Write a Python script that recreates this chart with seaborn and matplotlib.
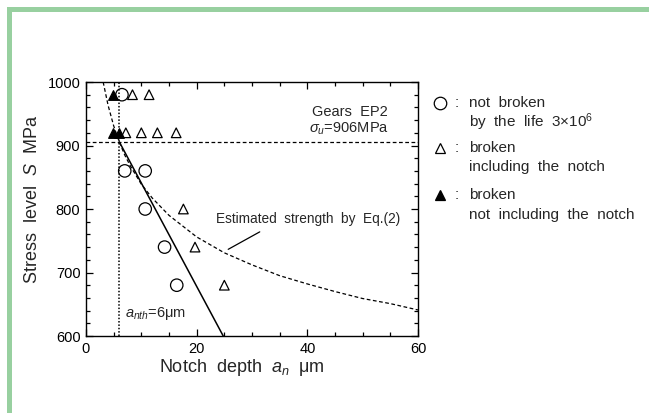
import numpy as np
import pandas as pd
import matplotlib
matplotlib.use("Agg")
import matplotlib.pyplot as plt
import seaborn as sns
from matplotlib.lines import Line2D
from matplotlib.patches import Rectangle

# ---------------- data ----------------
circle_x = [6.5, 7.0, 10.7, 10.7, 14.2, 16.4]
circle_y = [980, 860, 860, 800, 740, 680]

open_tri_x = [8.4, 11.4, 7.2, 10.0, 12.9, 16.3, 17.6, 19.7, 25.0]
open_tri_y = [980, 980, 920, 920, 920, 920, 800, 740, 680]

filled_tri_x = [4.9, 4.9, 6.0]
filled_tri_y = [980, 920, 920]

# estimated strength by Eq.(2) (dashed curve)
est_x = [3.1, 4, 5, 6, 7, 8, 10, 12, 15, 20, 25, 30, 35, 40, 45, 50, 55, 60]
est_y = [1000, 963, 931, 906, 885, 868, 839, 817, 790, 756, 731, 712, 695, 682, 670, 659, 651, 641]

# solid line
fit_x = [6.0, 24.8]
fit_y = [906, 600]

sigma_u = 906
a_nth = 6

x_limits = [0, 60]
y_limits = [600, 1000]
x_major = [0, 20, 40, 60]
y_major = [600, 700, 800, 900, 1000]

# ---------------- style ----------------
sns.set_theme(style="ticks")
plt.rcParams["font.family"] = ["Liberation Sans", "DejaVu Sans"]
plt.rcParams["mathtext.fontset"] = "custom"
plt.rcParams["mathtext.rm"] = "Liberation Sans"
plt.rcParams["mathtext.it"] = "Liberation Sans:italic"
plt.rcParams["mathtext.default"] = "it"

W, H = 649, 413
fig = plt.figure(figsize=(W / 100, H / 100), dpi=100)
fig.patch.set_facecolor("white")

green = "#98d0a0"
fig.add_artist(Rectangle((7 / W, 0), 5 / W, 1 - 7 / H, transform=fig.transFigure,
                         facecolor=green, edgecolor="none"))
fig.add_artist(Rectangle((7 / W, 1 - 12 / H), 1 - 7 / W, 5 / H, transform=fig.transFigure,
                         facecolor=green, edgecolor="none"))

ax = fig.add_axes([86 / W, 1 - 336 / H, (418 - 86) / W, (336 - 82) / H])

# reference lines
sns.lineplot(x=x_limits, y=[sigma_u, sigma_u], ax=ax, color="black", lw=0.9,
             linestyle=(0, (3, 2)), estimator=None)
sns.lineplot(x=[a_nth, a_nth], y=y_limits, ax=ax, color="black", lw=1.1,
             linestyle=(0, (1, 1.2)), estimator=None, sort=False)
sns.lineplot(x=est_x, y=est_y, ax=ax, color="black", lw=0.9,
             linestyle=(0, (3, 2)), sort=False, estimator=None)
sns.lineplot(x=fit_x, y=fit_y, ax=ax, color="black", lw=1.1, estimator=None)

# markers
sns.scatterplot(x=circle_x, y=circle_y, ax=ax, marker="o", s=80,
                facecolor="none", edgecolor="black", linewidth=0.9, zorder=5)
sns.scatterplot(x=open_tri_x, y=open_tri_y, ax=ax, marker="^", s=48,
                facecolor="none", edgecolor="black", linewidth=0.9, zorder=5)
sns.scatterplot(x=filled_tri_x, y=filled_tri_y, ax=ax, marker="^", s=48,
                facecolor="black", edgecolor="black", linewidth=0.9, zorder=6)

ax.set_xlim(*x_limits)
ax.set_ylim(*y_limits)
ax.set_xticks(x_major)
ax.set_yticks(y_major)
ax.set_xticks(np.arange(0, 61, 5), minor=True)
ax.set_yticks(np.arange(600, 1001, 20), minor=True)
ax.tick_params(which="both", direction="in", top=True, right=True, colors="black",
               labelsize=10.5)
ax.tick_params(which="major", length=5, width=0.9)
ax.tick_params(which="minor", length=3, width=0.9)
ax.tick_params(axis="x", pad=4)
ax.tick_params(axis="y", pad=4)
for sp in ax.spines.values():
    sp.set_visible(True)
    sp.set_color("black")
    sp.set_linewidth(1.0)
ax.set_facecolor("white")
ax.grid(False)

ax.set_xlabel(r"Notch  depth  $a_n$  $\mathrm{\mu}$m", fontsize=13)
ax.set_ylabel(r"Stress  level  $S$  MPa", fontsize=13)
ax.xaxis.set_label_coords(0.47, -0.082)
ax.yaxis.set_label_coords(-0.135, 0.539)


def px(xp, yp):
    return (xp / W, 1 - yp / H)


fig.text(*px(388, 112), "Gears  EP2", ha="right", va="center", fontsize=10.5)
fig.text(*px(389, 128.5), r"$\sigma_u$=906MPa", ha="right", va="center", fontsize=10.5)
fig.text(*px(125, 313), r"$a_{nth}$=6μm", ha="left", va="center", fontsize=10.5)
fig.text(*px(216, 219.5), "Estimated  strength  by  Eq.(2)", ha="left", va="center",
         fontsize=9.8)
ax.plot([31.4, 25.7], [764, 736.5], color="black", lw=0.9)

# legend on the right
lx, colon_x, tx = 440, 457, 469
entries = [
    (102.7, "o", "none", "not  broken", "by  the  life  3×10$^{\\mathrm{6}}$"),
    (148.0, "^", "none", "broken", "including  the  notch"),
    (195.0, "^", "black", "broken", "not  including  the  notch"),
]
for yy, mk, fc, l1, l2 in entries:
    fig.add_artist(Line2D([lx / W], [1 - yy / H], marker=mk, markersize=9 if mk == "o" else 7.5,
                          markerfacecolor=fc, markeredgecolor="black", markeredgewidth=0.9,
                          linestyle="none", transform=fig.transFigure))
    fig.text(*px(colon_x, yy), ":", ha="center", va="center", fontsize=11)
    fig.text(*px(tx, yy), l1, ha="left", va="center", fontsize=11)
    fig.text(*px(tx, yy + 19.5), l2, ha="left", va="center", fontsize=11)

fig.savefig("out.png", dpi=100)
